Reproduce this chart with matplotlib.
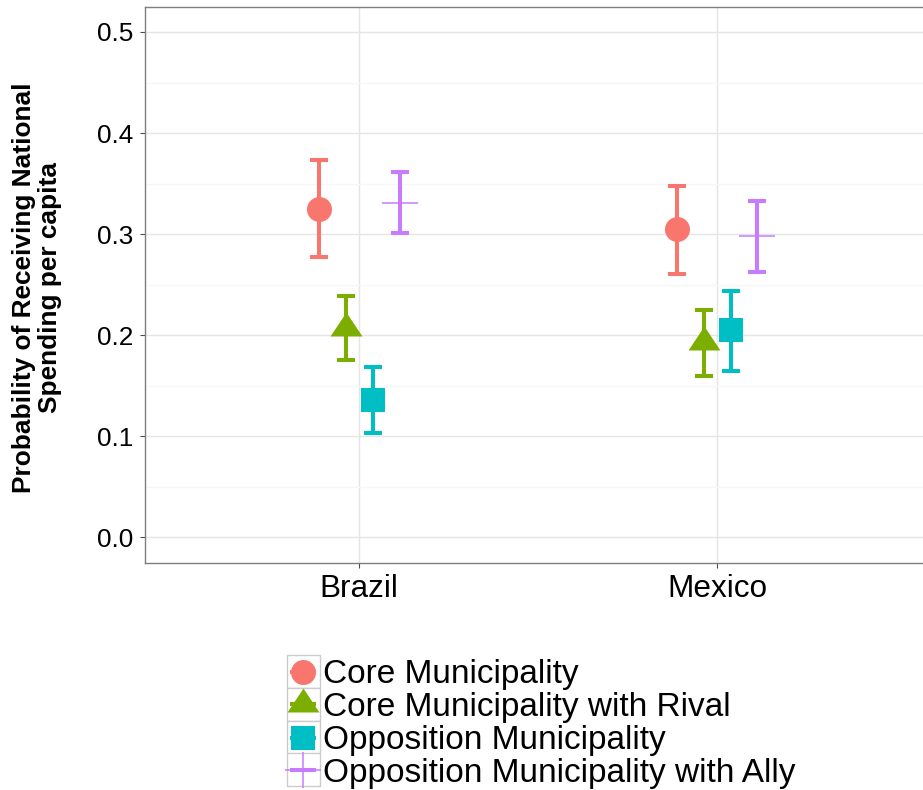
import numpy as np
import matplotlib
matplotlib.use("Agg")
import matplotlib.pyplot as plt
from matplotlib.patches import Rectangle
from matplotlib.lines import Line2D

plt.rcParams['font.family'] = ['Liberation Sans', 'DejaVu Sans']

# ---------------- data ----------------
countries = ['Brazil', 'Mexico']
groups = ['Core Municipality', 'Core Municipality with Rival',
          'Opposition Municipality', 'Opposition Municipality with Ally']

core_est = [0.325, 0.305]
core_lo = [0.277, 0.261]
core_hi = [0.373, 0.348]

rival_est = [0.207, 0.193]
rival_lo = [0.175, 0.160]
rival_hi = [0.239, 0.225]

opp_est = [0.136, 0.205]
opp_lo = [0.103, 0.165]
opp_hi = [0.169, 0.244]

ally_est = [0.331, 0.298]
ally_lo = [0.301, 0.263]
ally_hi = [0.361, 0.333]

y_ticks = [0.0, 0.1, 0.2, 0.3, 0.4, 0.5]
y_tick_labels = ['0.0', '0.1', '0.2', '0.3', '0.4', '0.5']

# ---------------- style ----------------
colors = ['#F8766D', '#7CAE00', '#00BFC4', '#C77CFF']
tri = [(0, 16), (-16, -8), (16, -8)]
markers = ['o', tri, 's', '+']
msizes = [18.0, 23.0, 17.3, 26.0]
mews = [0, 0, 0, 1.1]

series = [(core_est, core_lo, core_hi), (rival_est, rival_lo, rival_hi),
          (opp_est, opp_lo, opp_hi), (ally_est, ally_lo, ally_hi)]

W, H = 923, 790
fig = plt.figure(figsize=(W / 100, H / 100), dpi=100)

left_px, right_px, top_px, bottom_px = 144.5, 932.0, 6.7, 562.6
ax = fig.add_axes([left_px / W, 1 - bottom_px / H,
                   (right_px - left_px) / W, (bottom_px - top_px) / H])

x_base = np.arange(1, len(countries) + 1)
dodge_width = 0.3
n = len(groups)
offsets = (np.arange(n) - (n - 1) / 2) * dodge_width / n

lw_err = 2.9
for i, (est, lo, hi) in enumerate(series):
    xs = x_base + offsets[i]
    est = np.array(est); lo = np.array(lo); hi = np.array(hi)
    ax.errorbar(xs, est, yerr=[est - lo, hi - est], fmt='none',
                ecolor=colors[i], elinewidth=lw_err, capsize=6.4,
                capthick=lw_err, zorder=3)
    if markers[i] == '+':
        ax.plot(xs, est, linestyle='none', marker='+', markersize=msizes[i],
                markeredgewidth=mews[i], color=colors[i], zorder=4)
    else:
        ax.plot(xs, est, linestyle='none', marker=markers[i],
                markersize=msizes[i], markeredgewidth=0,
                color=colors[i], zorder=4)

ax.set_xlim(0.4, 2.6)
ax.set_ylim(-0.025, 0.525)
ax.set_xticks(x_base)
ax.set_xticklabels(countries, fontsize=22.7)
ax.set_yticks(y_ticks)
ax.set_yticklabels(y_tick_labels, fontsize=18.8)
ax.set_yticks(np.array(y_ticks[:-1]) + 0.05, minor=True)

ax.tick_params(axis='both', which='major', length=3.8, width=0.8,
               color='#4d4d4d', labelcolor='black')
ax.tick_params(axis='y', which='major', pad=4.0)
ax.tick_params(axis='x', which='major', pad=4.5)
ax.tick_params(axis='both', which='minor', length=0)

ax.grid(True, which='major', color='#e5e5e5', linewidth=1.0, zorder=0)
ax.grid(True, which='minor', axis='y', color='#f7f7f7', linewidth=1.0, zorder=0)
ax.set_axisbelow(True)
for s in ax.spines.values():
    s.set_color('#7f7f7f')
    s.set_linewidth(1.0)

fig.text(37 / W, 1 - 288 / H,
         'Probability of Receiving National\nSpending per capita',
         rotation=90, ha='center', va='center', fontsize=18.9,
         fontweight='bold', linespacing=1.08)

# ---------------- legend ----------------
lax = fig.add_axes([0, 0, 1, 1])
lax.set_xlim(0, W)
lax.set_ylim(H, 0)
lax.axis('off')
key_x0, key_w = 286.7, 33.3
key_tops = [655.0, 687.7, 721.0, 753.3]
key_h = 33.0
for i, g in enumerate(groups):
    y0 = key_tops[i]
    cy = y0 + key_h / 2
    cx = key_x0 + key_w / 2
    lax.add_patch(Rectangle((key_x0, y0), key_w, key_h, facecolor='white',
                            edgecolor='#cccccc', linewidth=1.0, zorder=1))
    lax.add_line(Line2D([cx - 13, cx + 13], [cy, cy], color=colors[i],
                        linewidth=lw_err, solid_capstyle='butt', zorder=2))
    if markers[i] == '+':
        lax.plot([cx], [cy], marker='+', markersize=msizes[i],
                 markeredgewidth=mews[i], color=colors[i], zorder=3,
                 clip_on=False)
    else:
        lax.plot([cx], [cy], marker=markers[i], markersize=msizes[i],
                 markeredgewidth=0, color=colors[i], zorder=3, clip_on=False)
    lax.text(323.3, cy, g, fontsize=24, ha='left', va='center_baseline',
             color='black')

fig.savefig('out.png', dpi=100, facecolor='white')
